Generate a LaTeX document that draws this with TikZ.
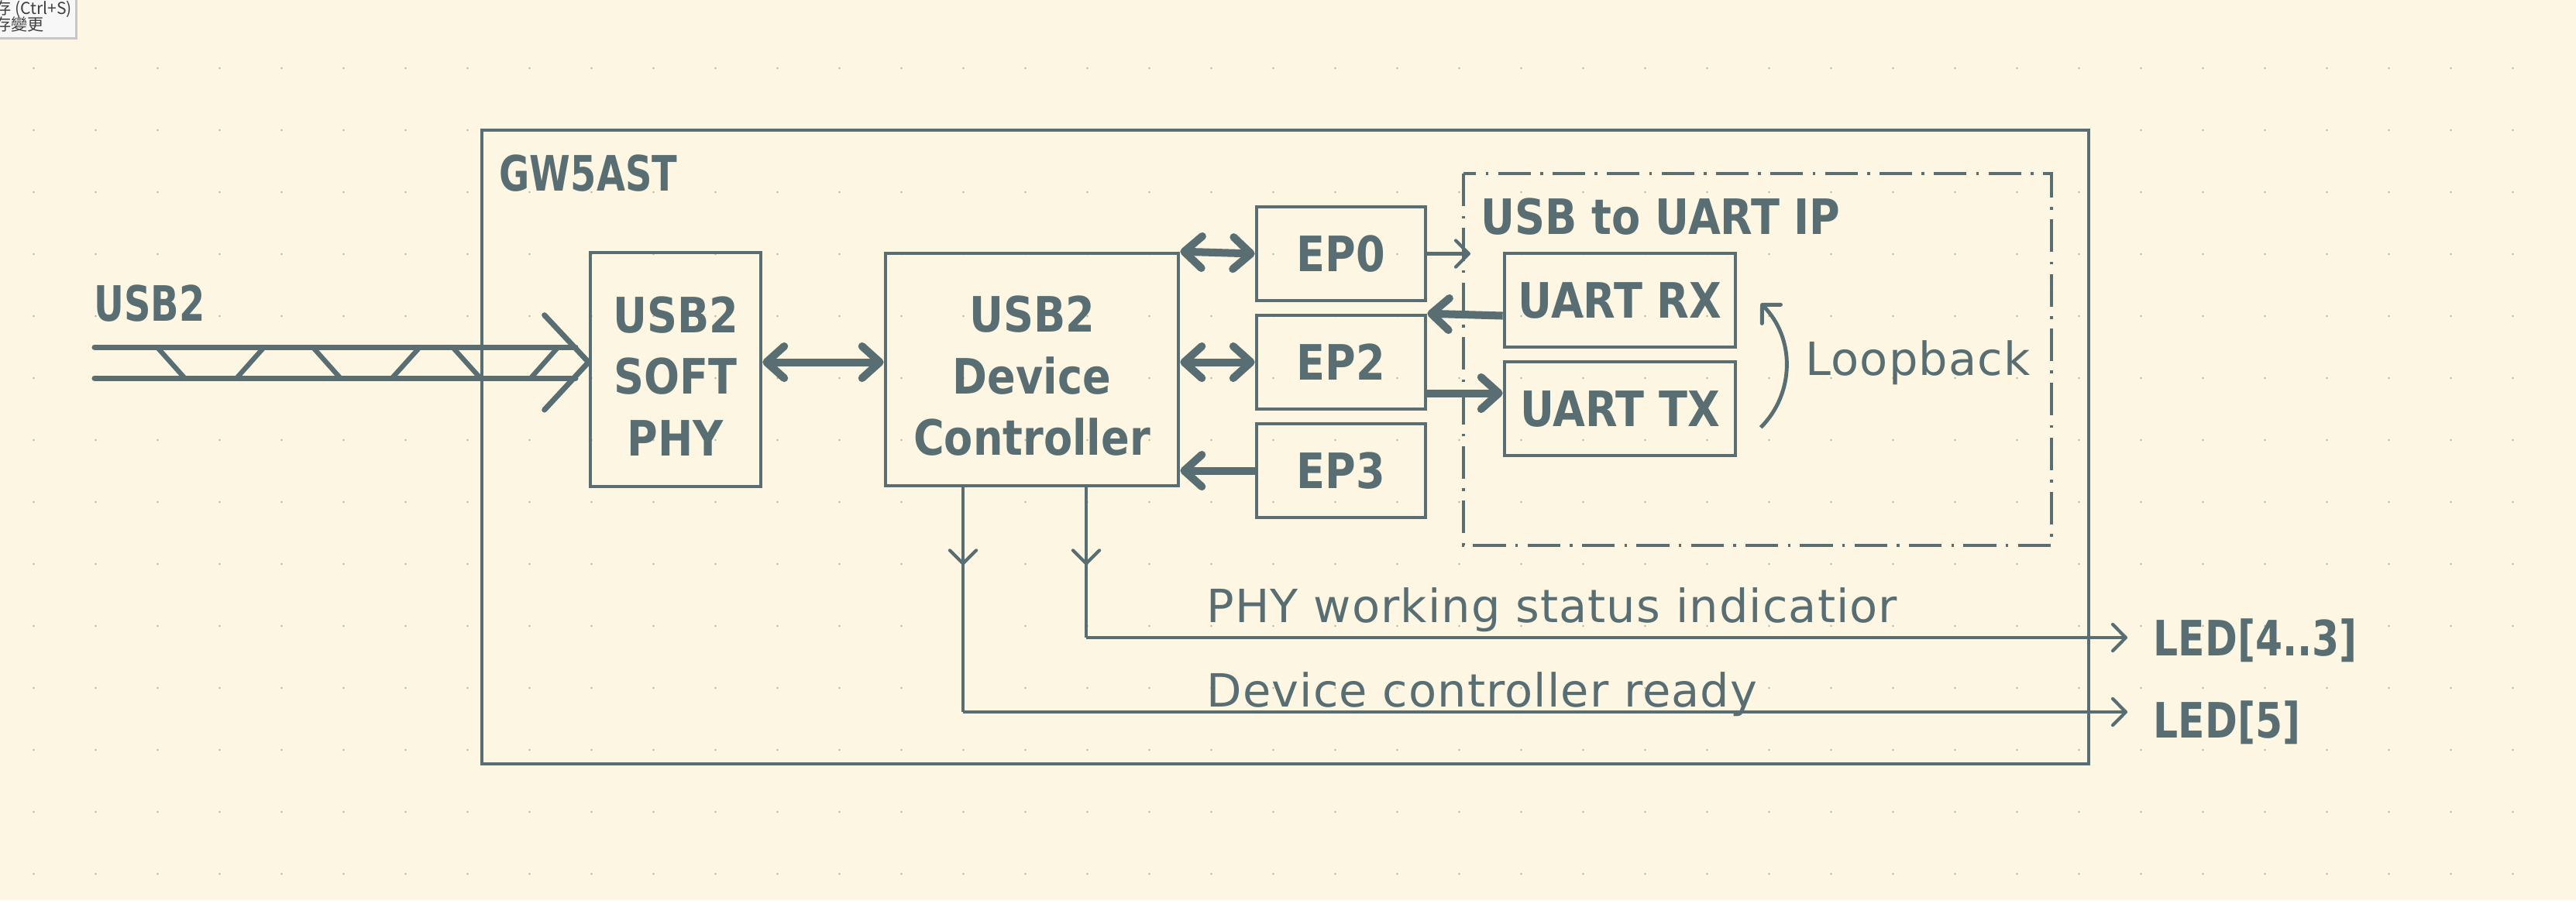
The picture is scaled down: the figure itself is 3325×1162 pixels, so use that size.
\documentclass[tikz,border=0pt]{standalone}
\usepackage{fontspec}
\setmainfont{DejaVu Sans}
\newfontfamily\kbold{DejaVu Sans Bold}[FakeStretch=0.86]
\newfontfamily\kboldnarrow{DejaVu Sans Bold}[FakeStretch=0.76]
\newfontfamily\kboldled{DejaVu Sans Bold}[FakeStretch=0.8]
\newfontfamily\knote{DejaVu Sans}[LetterSpace=1.8]
\newfontfamily\cjk{Noto Sans CJK TC}
\usetikzlibrary{arrows.meta,positioning}
\definecolor{paper}{HTML}{FDF6E3}
\definecolor{ink}{HTML}{596E73}
\definecolor{griddot}{HTML}{B8B3A0}

\begin{document}
\begin{tikzpicture}[x=0.01cm,y=-0.01cm,
  box/.style={draw=ink,line width=1.3pt,inner sep=0pt,text=ink,align=center,font=\kbold\fontsize{17.9}{22.6}\selectfont},
  ep/.style={box,minimum width=2.18cm,minimum height=1.21cm},
  uart/.style={box,minimum width=2.98cm,minimum height=1.21cm},
  title/.style={inner sep=0pt,text=ink,anchor=base west,font=\kbold\fontsize{17.9}{22.6}\selectfont},
  ledlabel/.style={title,inner xsep=0.33cm,font=\kboldled\fontsize{17.9}{22.6}\selectfont},
  note/.style={inner sep=0pt,text=ink,anchor=base west,font=\knote\fontsize{16.8}{20}\selectfont},
  frame/.style={draw=ink,line width=1.3pt},
  bus/.style={draw=ink,line width=2pt,line cap=round,line join=round},
  bigarrow/.style={draw=ink,line width=2.85pt,>={Straight Barb[length=6.5pt,width=11.7pt,round]}},
  smallarrow/.style={draw=ink,line width=1.2pt,>={Straight Barb[length=4.8pt,width=9.7pt,round]}}]

\useasboundingbox (0,0) rectangle (3325,1162);
\fill[paper] (0,0) rectangle (3325,1162);
\foreach \i in {0,...,40}
  \foreach \j in {0,...,13}
    \fill[griddot] (43.5+80*\i,88+80*\j) circle (1.4);

\fill[black!22] (0,0) rectangle (100,51);
\fill[white!97!black] (-3,-3) rectangle (97,48);
\node[inner sep=0pt,anchor=base west,text=black!75,font=\cjk\fontsize{6}{7}\selectfont] (tip1) at (-7,18) {存 (Ctrl+S)};
\node[inner sep=0pt,anchor=base west,text=black!75,font=\cjk\fontsize{6}{7}\selectfont] (tip2) at (-7,39) {存變更};

\draw[frame] (622,168) rectangle (2696,986);
\node[title,font=\kboldnarrow\fontsize{17.9}{22.6}\selectfont] (chip) at (644,246) {GW5AST};
\draw[frame,dash pattern=on 12pt off 3.5pt on 1pt off 3.5pt] (1889,224) rectangle (2648,704);
\node[title] (ip) at (1911,302) {USB to UART IP};

\node[box,minimum width=2.2cm,minimum height=3.02cm] (phy) at (872,477) {\rule{0pt}{0.63cm}USB2\\SOFT\\PHY};
\node[box,minimum width=3.78cm,minimum height=3cm] (dc) at (1332,477) {\rule{0pt}{0.63cm}USB2\\Device\\Controller};
\node[ep] (ep0) at (1731,327.5) {EP0};
\node[ep] (ep2) at (1731,467.5) {EP2};
\node[ep] (ep3) at (1731,607.5) {EP3};
\node[uart] (rx) at (2091,387.5) {UART RX};
\node[uart] (tx) at (2091,527.5) {UART TX};

\node[title,font=\kboldnarrow\fontsize{17.9}{22.6}\selectfont] (usb) at (121,414) {USB2};
\coordinate (busin) at (phy.west |- ep2);
\draw[bus] (122,448) -- (743,448);
\draw[bus] (122,488) -- (743,488);
\draw[bus] (702.7,406.7) -- (busin) -- (702.7,529);
\foreach \a/\b in {202.7/238.4,341/305.4,403.6/439.3,542/506,584/620,720.5/685}
  \draw[bus,line width=1.8pt] (\a,448) -- (\b,488);

\draw[bigarrow,<->] (phy.east |- ep2) -- (dc.west |- ep2);
\draw[bigarrow,<->] (dc.north east) -- (ep0.west);
\draw[bigarrow,<->] (dc.east |- ep2) -- (ep2.west);
\draw[bigarrow,<-] (dc.east |- ep3) -- (ep3.west);
\coordinate (rxout) at ([yshift=-0.2cm]rx.west);
\coordinate (txin) at ([yshift=0.2cm]tx.west);
\draw[bigarrow,->] (rxout) -- (ep2.north east);
\draw[bigarrow,->] (ep2.east |- txin) -- (txin);

\coordinate (ipin) at (1898,327.5);
\draw[smallarrow,->] (ep0.east) -- (ipin);

\coordinate (lbot) at (2272.7,551.7);
\coordinate (ltop) at (2272.7,391.7);
\draw[smallarrow,line width=1.4pt,->] (lbot) .. controls (2317,507.4) and (2317,436) .. (ltop);
\node[note] (loop) at (2330,484) {Loopback};

\node[ledlabel] (led43) at (2746,846) {LED[4..3]};
\node[ledlabel] (led5) at (2746,952) {LED[5]};
\coordinate (sts) at (1402,823);
\coordinate (rdy) at (1243,919);
\draw[smallarrow] (dc.south -| sts) -- (sts);
\draw[smallarrow] (dc.south -| rdy) -- (rdy);
\draw[smallarrow,->] (dc.south -| sts) -- ++(0,100);
\draw[smallarrow,->] (dc.south -| rdy) -- ++(0,100);
\draw[smallarrow,->] (sts) -- (sts -| led43.west);
\draw[smallarrow,->] (rdy) -- (rdy -| led5.west);
\node[note] (physt) at (1557,803) {PHY working status indicatior};
\node[note] (ready) at (1557,912) {Device controller ready};
\end{tikzpicture}
\end{document}
